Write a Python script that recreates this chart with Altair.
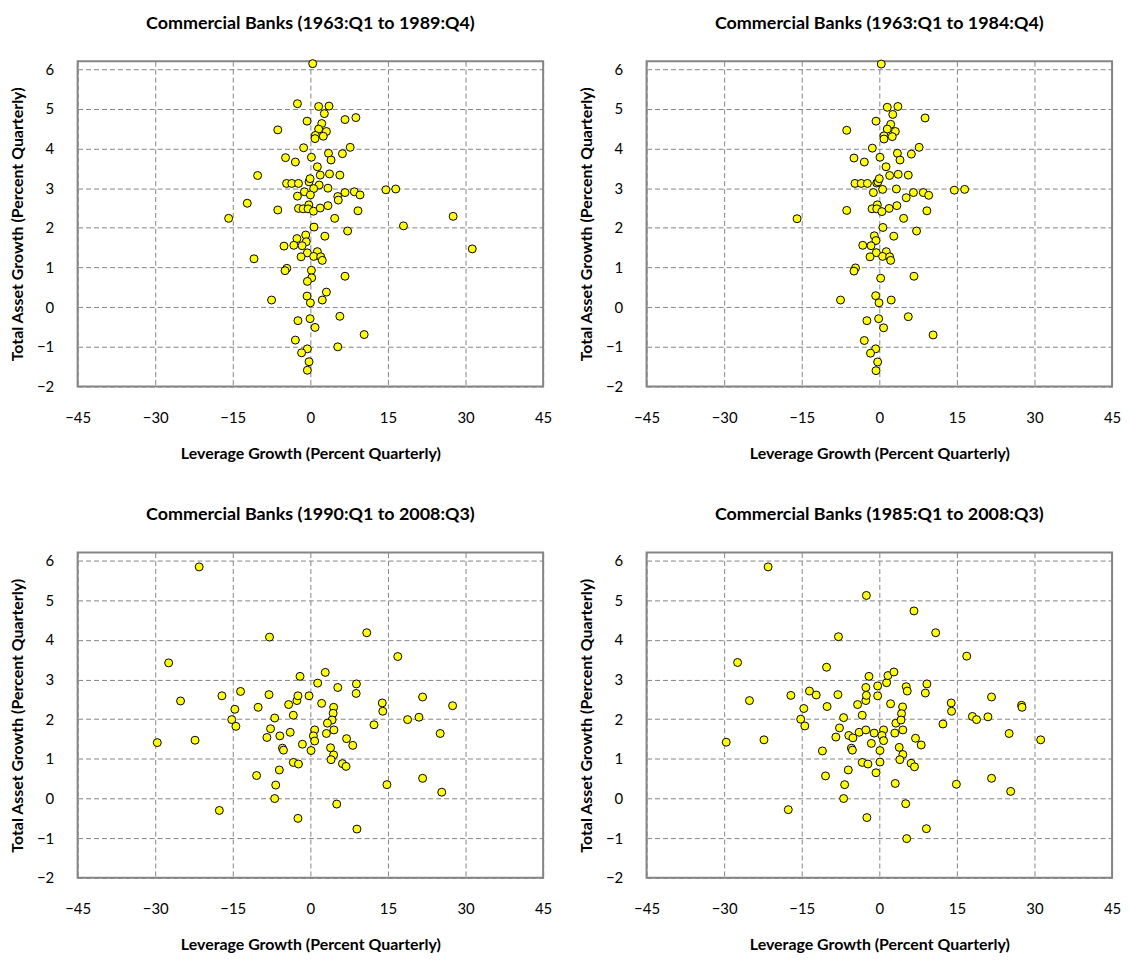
import altair as alt
import pandas as pd

# ---------------- data ----------------
tl_title = "Commercial Banks (1963:Q1 to 1989:Q4)"
tr_title = "Commercial Banks (1963:Q1 to 1984:Q4)"
bl_title = "Commercial Banks (1990:Q1 to 2008:Q3)"
br_title = "Commercial Banks (1985:Q1 to 2008:Q3)"

x_ticks = [-45, -30, -15, 0, 15, 30, 45]
y_ticks = [-2, -1, 0, 1, 2, 3, 4, 5, 6]

tl_x = [0.45, -2.5, 1.6, 3.6, 2.7, 6.7, 8.8, -0.64, -6.3, 2.2, 1.6, 3.1, 0.96, 2.5, 0.9,
        -1.3, 7.7, 6.2, 3.5, 4.0, -4.8, -2.9, 0.2, 1.35, 1.9, 3.7, 5.7, -10.2, -4.6, -3.6,
        -2.3, -0.26, -0.06, 1.7, 0.64, 3.4, -1.15, 0.0, -2.5, 6.7, 8.5, 9.6, 14.6, 16.5, 5.3,
        5.4, -12.2, -0.3, -2.3, -1.4, -0.45, 0.6, 1.9, 3.4, -6.3, 9.2, -15.8, 4.7, 0.7, 18.0,
        7.2, 2.8, -0.9, -2.6, -0.8, -5.1, -3.2, -1.6,
        -0.58, 1.35, -10.9, -1.8, 0.64, 2.0, 2.3, -4.55, -4.9, 0.2, 0.26, -0.58, 6.7, 3.1,
        -0.64, 0.0, 2.3, -7.5, -0.06, 5.7, -2.4, 0.9, 10.4, -2.9, 5.3, -0.58, -1.7, -0.26,
        -0.58, 27.6, 31.3]
tl_y = [6.14, 5.13, 5.06, 5.07, 4.88, 4.73, 4.78, 4.69, 4.47, 4.63, 4.49, 4.43, 4.33, 4.31, 4.25,
        4.02, 4.03, 3.87, 3.88, 3.71, 3.77, 3.66, 3.78, 3.54, 3.33, 3.36, 3.33, 3.32, 3.12, 3.12,
        3.12, 3.16, 3.24, 3.08, 2.99, 3.0, 2.91, 2.83, 2.8, 2.89, 2.91, 2.83, 2.96, 2.98, 2.79,
        2.7, 2.62, 2.58, 2.49, 2.48, 2.48, 2.42, 2.5, 2.56, 2.45, 2.43, 2.24, 2.24, 2.02, 2.05,
        1.92, 1.79, 1.82, 1.73, 1.65, 1.54, 1.56, 1.55,
        1.37, 1.40, 1.22, 1.27, 1.28, 1.27, 1.18, 0.98, 0.92, 0.93, 0.74, 0.65, 0.78, 0.38,
        0.28, 0.11, 0.18, 0.18, -0.29, -0.23, -0.34, -0.51, -0.69, -0.83, -1.0, -1.05, -1.15, -1.375,
        -1.59, 2.29, 1.47]

tr_x = [0.38, 1.54, 3.6, 2.6, 8.85, -0.64, -6.3, 2.2, 1.54, 3.1, 0.9, 2.5, 0.9, -1.35, 7.7,
        6.2, 3.5, 4.0, -4.9, -2.9, 0.13, 1.3, 2.0, 3.65, 5.6, -4.7, -3.5, -2.3, -0.5, -0.26,
        0.0, -1.15, 0.64, 3.3, 6.6, 8.5, 9.55, 14.5, 16.5, 5.2, -15.9, -6.3, -1.4, -0.38, -0.5,
        0.5, 1.9, 3.4, 9.2, 4.7, 0.7, 7.2, 2.8, -0.96, -0.64, -3.2, -1.6,
        -0.58, 1.35, -1.8, 0.64, 2.0, 2.2, -4.6, -4.9, 0.26, 6.7, -0.7, -0.06, 2.3, -7.5,
        -0.13, 5.6, -2.4, 0.83, 10.4, -2.9, -0.7, -1.7, -0.32, -0.64]
tr_y = [6.13, 5.04, 5.06, 4.86, 4.77, 4.69, 4.46, 4.61, 4.49, 4.43, 4.32, 4.30, 4.24, 4.01, 4.03,
        3.86, 3.88, 3.71, 3.76, 3.66, 3.78, 3.54, 3.32, 3.35, 3.33, 3.12, 3.12, 3.12, 3.13, 3.16,
        3.24, 2.89, 2.97, 2.98, 2.89, 2.89, 2.82, 2.95, 2.97, 2.76, 2.23, 2.44, 2.48, 2.58, 2.48,
        2.41, 2.49, 2.56, 2.43, 2.24, 2.01, 1.92, 1.79, 1.80, 1.68, 1.56, 1.55,
        1.375, 1.40, 1.27, 1.28, 1.27, 1.18, 0.99, 0.91, 0.73, 0.78, 0.29, 0.11, 0.18, 0.18,
        -0.29, -0.24, -0.34, -0.52, -0.70, -0.84, -1.05, -1.16, -1.38, -1.6]

bl_x = [-21.5, -7.9, -27.4, -25.1, -17.1, -13.5, -8.0, -14.6, -10.1, -15.2, -14.4, -6.9, -29.6,
        -22.3, -7.7, -8.4, -5.9, -4.2, -2.6, -2.4, -3.3, -3.9, -5.4, -5.2, -3.3, -10.4, -6.0,
        -6.7, -6.9, -17.6, -2.4, -2.3, -2.0,
        -1.54, -0.26, 0.13, 1.41, 2.88, 2.18, 0.83, 0.58, 0.83, 4.5, 4.4, 4.2, 3.3, 3.1, 4.55,
        5.3, 3.9, 4.5, 4.0, 7.0, 8.2, 6.2, 6.9, 8.9, 8.85, 10.9, 12.3, 13.9, 14.0, 16.9, 18.8,
        21.0, 21.7, 27.5, 25.1, 14.8, 21.7, 25.4, 5.1, 9.0]
bl_y = [5.84, 4.07, 3.42, 2.46, 2.59, 2.70, 2.62, 2.25, 2.30, 1.99, 1.82, 2.03, 1.41,
        1.47, 1.76, 1.54, 1.58, 2.37, 2.47, 2.59, 2.10, 1.67, 1.27, 1.22, 0.91, 0.58, 0.72,
        0.34, 0.0, -0.30, -0.50, 0.87, 3.08,
        1.37, 2.59, 1.21, 2.91, 3.18, 2.40, 1.73, 1.58, 1.45, 2.30, 2.15, 1.98, 1.90, 1.64, 1.73,
        2.80, 1.28, 1.10, 0.98, 1.51, 1.34, 0.88, 0.81, 2.89, 2.65, 4.18, 1.86, 2.41, 2.20, 3.58, 1.99,
        2.05, 2.56, 2.34, 1.64, 0.35, 0.51, 0.16, -0.14, -0.77]

br_x = [-21.5, -2.5, -7.9, -27.4, -10.2, -25.1, -17.1, -13.5, -12.2, -8.0, -14.6, -10.1, -15.2,
        -14.4, -6.9, -29.6, -22.3, -7.7, -8.4, -5.9, -5.1, -5.4, -5.2, -11.0, -10.4, -6.0, -6.7,
        -6.9, -17.6, -2.4, -3.3, -2.2, -4.2, -2.6, -2.5, -2.6, -2.0, -3.3, -3.9, -2.6, -1.0,
        -1.54, -0.64, -0.32, -0.32,
        0.13, 0.13, 1.41, 1.67, 2.82, 2.18, 0.83, 0.51, 0.83, 3.2, 3.0, 4.5, 4.3, 4.2, 4.55,
        5.2, 5.4, 6.7, 10.9, 16.9, 9.2, 8.9, 7.0, 8.1, 3.85, 4.55, 3.97, 6.15, 6.8, 3.08, 5.1,
        9.1, 5.3, 12.3, 13.9, 13.97, 18.0, 18.8, 21.0, 21.7, 27.5, 27.6, 25.1, 31.2, 14.9, 21.7,
        25.4]
br_y = [5.84, 5.12, 4.08, 3.43, 3.31, 2.47, 2.60, 2.71, 2.61, 2.62, 2.27, 2.32, 2.0,
        1.83, 2.04, 1.42, 1.48, 1.78, 1.55, 1.59, 1.53, 1.27, 1.22, 1.20, 0.57, 0.72, 0.35,
        0.0, -0.28, -0.48, 0.91, 0.87, 2.37, 2.47, 2.60, 2.80, 3.08, 2.10, 1.67, 1.73, 1.65,
        1.39, 0.65, 2.84, 2.59,
        1.21, 0.92, 2.92, 3.10, 3.19, 2.39, 1.73, 1.59, 1.46, 1.90, 1.65, 2.31, 2.14, 1.98, 1.73,
        2.82, 2.71, 4.73, 4.18, 3.59, 2.89, 2.66, 1.52, 1.35, 1.29, 1.11, 0.98, 0.89, 0.80, 0.38, -0.13,
        -0.76, -1.01, 1.88, 2.41, 2.20, 2.07, 1.99, 2.06, 2.56, 2.35, 2.30, 1.64, 1.48, 0.36, 0.51,
        0.18]

FONT = "Lato"
GRID = "#858585"


def panel(xs, ys, title, offset):
    df = pd.DataFrame({"x": xs, "y": ys})
    return (
        alt.Chart(
            df,
            title=alt.TitleParams(
                title, fontSize=18, fontWeight="bold", font=FONT, color="black", offset=offset
            ),
        )
        .mark_point(
            shape="circle", filled=True, fill="#FFFF00", stroke="black",
            strokeWidth=1, size=64, opacity=1,
        )
        .encode(
            x=alt.X(
                "x:Q",
                scale=alt.Scale(domain=[-45, 45], nice=False, zero=False),
                axis=alt.Axis(values=x_ticks, title="Leverage Growth (Percent Quarterly)"),
            ),
            y=alt.Y(
                "y:Q",
                scale=alt.Scale(domain=[-2, 6.2], nice=False, zero=False),
                axis=alt.Axis(values=y_ticks, title="Total Asset Growth (Percent Quarterly)"),
            ),
        )
        .properties(width=468, height=327)
    )


top = alt.hconcat(
    panel(tl_x, tl_y, tl_title, 25), panel(tr_x, tr_y, tr_title, 25), spacing=24
)
bottom = alt.hconcat(
    panel(bl_x, bl_y, bl_title, 29), panel(br_x, br_y, br_title, 29), spacing=24
)

chart = (
    alt.vconcat(top, bottom, spacing=43)
    .properties(padding={"left": 0, "top": 3, "right": 0, "bottom": 0}, background="white")
    .configure_view(stroke="#858585", strokeWidth=2)
    .configure_axis(
        grid=True,
        gridColor=GRID,
        gridDash=[5, 3],
        gridWidth=1,
        gridOpacity=1,
        domain=False,
        ticks=False,
        tickSize=0,
        labelFont=FONT,
        labelFontSize=15,
        labelColor="black",
        labelFlush=False,
        titleFont=FONT,
        titleFontSize=16,
        titleFontWeight="bold",
        titleColor="black",
    )
    .configure_axisX(labelPadding=24, titlePadding=20)
    .configure_axisY(labelPadding=24, titlePadding=11)
)

chart.save("out.html", embed_options={"renderer": "svg", "actions": False})
